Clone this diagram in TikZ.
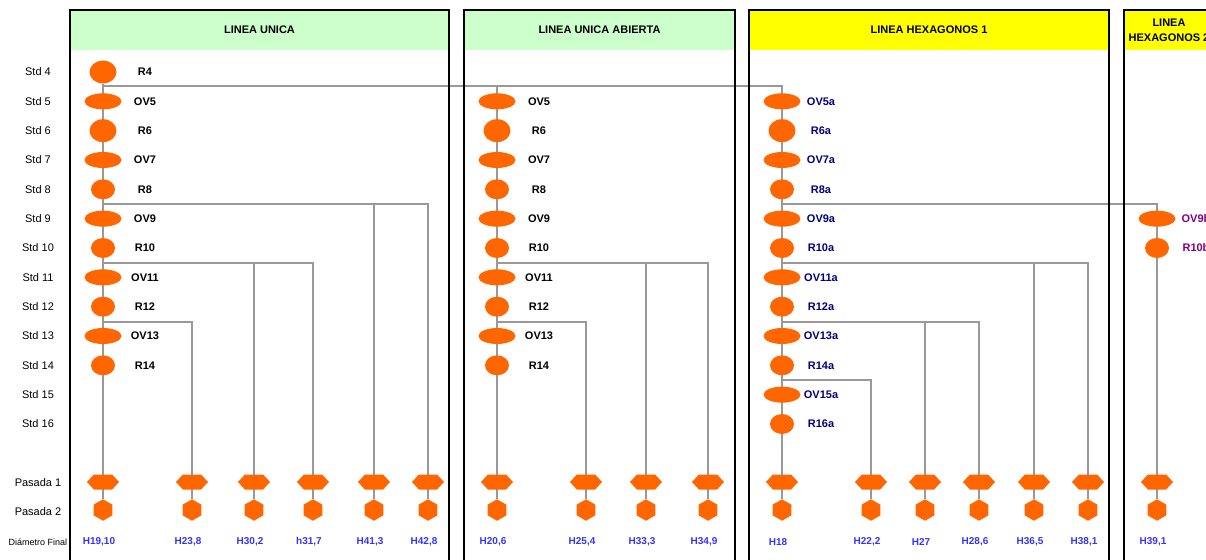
\documentclass[tikz,border=0pt]{standalone}
\usepackage{fontspec}
\setmainfont{Liberation Sans}
\usepackage{tikz}
\usetikzlibrary{shapes,positioning,backgrounds}
\definecolor{rollorange}{HTML}{FF6600}
\definecolor{linegray}{HTML}{999999}
\definecolor{hgreen}{HTML}{CCFFCC}
\definecolor{hyellow}{HTML}{FFFF00}
\definecolor{navylab}{HTML}{000080}
\definecolor{purplelab}{HTML}{800080}
\definecolor{diamblue}{HTML}{3333FF}

\begin{document}
\begin{tikzpicture}[
    x=1pt, y=-1pt,
    panel/.style={draw=black, line width=2pt},
    hdr/.style={inner sep=0pt, minimum height=40pt, align=center, font=\bfseries\fontsize{11}{15}\selectfont},
    rbig/.style={ellipse, fill=rollorange, minimum width=27pt, minimum height=23pt, inner sep=0pt},
    rsml/.style={ellipse, fill=rollorange, minimum width=24pt, minimum height=20pt, inner sep=0pt},
    oval/.style={ellipse, fill=rollorange, minimum width=37pt, minimum height=16pt, inner sep=0pt},
    pasone/.style={signal, signal to=east and west, signal pointer angle=95, fill=rollorange, minimum width=32pt, minimum height=15pt, inner sep=0pt},
    pastwo/.style={regular polygon, regular polygon sides=6, shape border rotate=30, fill=rollorange, minimum size=21.5pt, inner sep=0pt},
    stdlab/.style={font=\fontsize{11}{13}\selectfont},
    rolllab/.style={font=\bfseries\fontsize{11}{13}\selectfont},
    diamlab/.style={font=\bfseries\fontsize{10}{12}\selectfont, text=diamblue},
    line/.style={draw=linegray, line width=1.3pt}
]
\useasboundingbox (0,0) rectangle (1206,559);

% Panels
\node [hdr, fill=hgreen, minimum width=379pt] (hunica) at (259.5,30) {LINEA UNICA};
\node [hdr, fill=hgreen, minimum width=271pt] (habierta) at (599.5,30) {LINEA UNICA ABIERTA};
\node [hdr, fill=hyellow, minimum width=360pt] (hhexa) at (929,30) {LINEA HEXAGONOS 1};
\node [hdr, fill=hyellow, minimum width=90pt] (hhexb) at (1169,30) {LINEA\\HEXAGONOS 2};
\draw [panel] (70,10) rectangle (449,580);
\draw [panel] (464,10) rectangle (735,580);
\draw [panel] (749,10) rectangle (1109,580);
\draw [panel] (1124,10) rectangle (1214,580);

% Row labels
\foreach \k in {4,...,16}
    \node [stdlab] (std\k) at (38,{72+(\k-4)*29.333}) {Std \k};
\node [stdlab] (pasada1) at (38,483) {Pasada 1};
\node [stdlab] (pasada2) at (38,512) {Pasada 2};
\node [stdlab, font=\fontsize{9}{11}\selectfont] (diametro) at (38,542) {Diámetro Final};

% Rolls
\foreach \k/\shp/\txt in {4/rbig/R4, 5/oval/OV5, 6/rbig/R6, 7/oval/OV7, 8/rsml/R8, 9/oval/OV9, 10/rsml/R10, 11/oval/OV11, 12/rsml/R12, 13/oval/OV13, 14/rsml/R14} {
    \node [\shp] (u\k) at (103,{72+(\k-4)*29.333}) {};
    \node [rolllab] (ut\k) at (145,{72+(\k-4)*29.333}) {\txt};
}
\foreach \k/\shp/\txt in {5/oval/OV5, 6/rbig/R6, 7/oval/OV7, 8/rsml/R8, 9/oval/OV9, 10/rsml/R10, 11/oval/OV11, 12/rsml/R12, 13/oval/OV13, 14/rsml/R14} {
    \node [\shp] (ab\k) at (497,{72+(\k-4)*29.333}) {};
    \node [rolllab] (abt\k) at (539,{72+(\k-4)*29.333}) {\txt};
}
\foreach \k/\shp/\txt in {5/oval/OV5a, 6/rbig/R6a, 7/oval/OV7a, 8/rsml/R8a, 9/oval/OV9a, 10/rsml/R10a, 11/oval/OV11a, 12/rsml/R12a, 13/oval/OV13a, 14/rsml/R14a, 15/oval/OV15a, 16/rsml/R16a} {
    \node [\shp] (hx\k) at (782,{72+(\k-4)*29.333}) {};
    \node [rolllab, text=navylab] (hxt\k) at (821,{72+(\k-4)*29.333}) {\txt};
}
\foreach \k/\shp/\txt in {9/oval/OV9b, 10/rsml/R10b} {
    \node [\shp] (hy\k) at (1157,{72+(\k-4)*29.333}) {};
    \node [rolllab, text=purplelab] (hyt\k) at (1196,{72+(\k-4)*29.333}) {\txt};
}

% Pasadas
\foreach \c/\x/\d in {1/103/{H19,10}, 2/192/{H23,8}, 3/254/{H30,2}, 4/313/{h31,7}, 5/374/{H41,3}, 6/428/{H42,8},
                      7/497/{H20,6}, 8/586/{H25,4}, 9/646/{H33,3}, 10/708/{H34,9},
                      11/782/{H18}, 12/871/{H22,2}, 13/925/{H27}, 14/979/{H28,6}, 15/1034/{H36,5}, 16/1088/{H38,1},
                      17/1157/{H39,1}} {
    \node [pasone] (pa\c) at (\x,482) {};
    \node [pastwo] (pb\c) at (\x,510) {};
    \node [diamlab] (dm\c) at (\x-4,542) {\d};
}

% Connectors
\coordinate (s4) at (103,86);
\coordinate (s8) at (103,204);
\coordinate (s10) at (103,263);
\coordinate (s12) at (103,322);
\coordinate (t10) at (497,263);
\coordinate (t12) at (497,322);
\coordinate (h8) at (782,204);
\coordinate (h10) at (782,263);
\coordinate (h12) at (782,322);
\coordinate (h14) at (782,380);
\begin{scope}[on background layer]
\path [line] (u4) -- (pb1);
\path [line] (s4) -| (pb11);
\path [line] (s4 -| pb7) -- (pb7);
\path [line] (s8) -| (pb5);
\path [line] (s8) -| (pb6);
\path [line] (s10) -| (pb3);
\path [line] (s10) -| (pb4);
\path [line] (s12) -| (pb2);
\path [line] (t10) -| (pb9);
\path [line] (t10) -| (pb10);
\path [line] (t12) -| (pb8);
\path [line] (h8) -| (pb17);
\path [line] (h10) -| (pb15);
\path [line] (h10) -| (pb16);
\path [line] (h12) -| (pb13);
\path [line] (h12) -| (pb14);
\path [line] (h14) -| (pb12);
\end{scope}

\end{tikzpicture}
\end{document}
